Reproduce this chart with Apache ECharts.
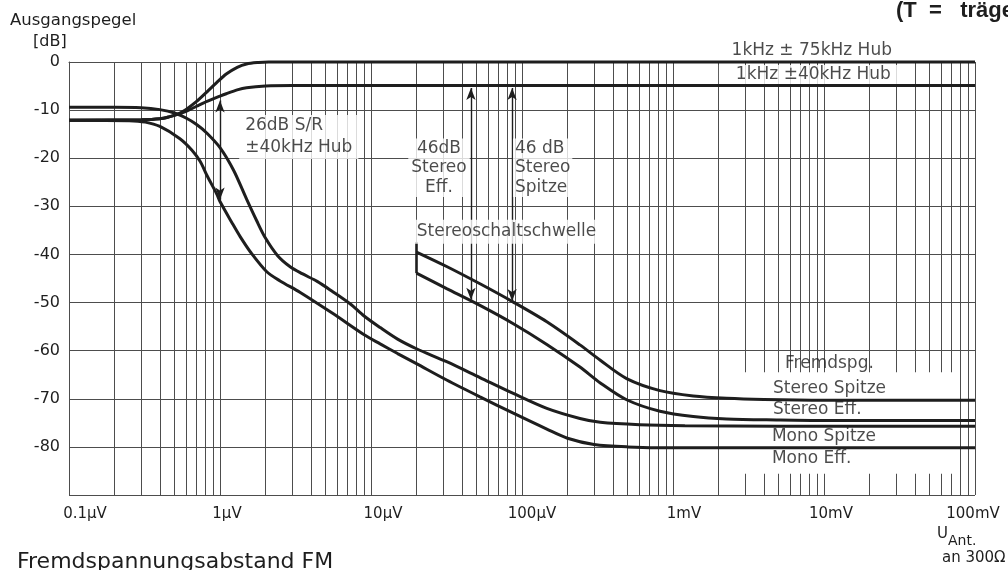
<!DOCTYPE html>
<html><head><meta charset="utf-8">
<script src="https://cdn.jsdelivr.net/npm/echarts@6/dist/echarts.min.js"></script>
<style>html,body{margin:0;padding:0;background:#fff}#c{width:1008px;height:570px}</style>
</head><body><div id="c"></div>
<script>
// ---- data (input voltage in µV, output level in dB) ----
const xTickLabels = ['0.1µV','1µV','10µV','100µV','1mV','10mV','100mV'];
const sig75 = [[0.1,-12.1],[0.3,-12.0],[0.4,-11.8],[0.46,-11.4],[0.52,-10.9],[0.6,-9.8],[0.7,-8.2],[0.82,-6.2],[0.95,-4.3],[1.1,-2.5],[1.3,-1.1],[1.5,-0.4],[1.8,-0.1],[2.1,0],[10,0],[100000,0]];
const sig40 = [[0.1,-12.1],[0.3,-12.0],[0.4,-11.8],[0.46,-11.4],[0.52,-10.9],[0.6,-10.2],[0.7,-9.2],[0.82,-8.2],[1.0,-7.1],[1.1,-6.6],[1.3,-5.8],[1.5,-5.35],[2.0,-5.0],[3,-4.9],[20,-4.9],[100000,-4.9]];
const monoSpitze = [[0.1,-9.4],[0.2,-9.4],[0.3,-9.5],[0.4,-9.9],[0.5,-10.6],[0.6,-11.7],[0.7,-13.0],[0.82,-14.8],[1.0,-17.8],[1.23,-22.5],[1.5,-28.5],[1.75,-33],[2.0,-36.6],[2.4,-40.2],[2.9,-42.5],[3.5,-44],[4.4,-45.6],[5.5,-47.6],[7.3,-50.3],[9,-52.8],[11.5,-55.2],[15,-57.6],[20,-59.6],[31.7,-62.3],[52.7,-65.6],[87.6,-68.9],[146,-72],[242,-74.1],[330,-74.9],[600,-75.4],[1200,-75.6],[5000,-75.7],[100000,-75.7]];
const monoEff = [[0.1,-12.1],[0.25,-12.2],[0.32,-12.5],[0.4,-13.4],[0.54,-15.9],[0.65,-18.3],[0.74,-20.7],[0.82,-23.6],[0.95,-27.4],[1.0,-29.0],[1.2,-33.4],[1.36,-36.3],[1.6,-39.6],[2.04,-43.6],[2.5,-45.5],[3.4,-47.9],[5.6,-52.3],[8.9,-56.6],[11.5,-58.6],[15,-60.6],[20,-62.7],[31.7,-66.1],[52.7,-69.6],[87.6,-73],[146,-76.3],[200,-78.2],[300,-79.5],[500,-80],[1000,-80.2],[5000,-80.2],[100000,-80.2]];
const stereoSpitze = [[20,-39.5],[31.7,-42.5],[52.7,-46.1],[87.6,-49.9],[146,-54],[242,-58.8],[330,-62],[493,-65.8],[820,-68.3],[1362,-69.4],[2269,-69.9],[4000,-70.15],[10000,-70.3],[100000,-70.3]];
const stereoEff = [[20,-43.9],[31.7,-47.1],[52.7,-50.6],[87.6,-54.4],[146,-58.7],[242,-63.4],[330,-66.7],[493,-70.2],[820,-72.6],[1362,-73.7],[2269,-74.2],[5000,-74.4],[10000,-74.5],[100000,-74.5]];
// measurement arrows: [x µV, top dB, bottom dB]
const arrows = [[1,-8,-28.6],[45.9,-5.4,-49.4],[86,-5.4,-49.7]];
// stereo switching threshold: [x µV, top dB, bottom dB]
const threshold = [20,-37.4,-43.9];
const annotationTexts = ['1kHz ± 75kHz Hub','1kHz ±40kHz Hub','26dB S/R\n±40kHz Hub','46dB\nStereo\nEff.','46 dB\nStereo\nSpitze','Stereoschaltschwelle','Fremdspg.','Stereo Spitze','Stereo Eff.','Mono Spitze','Mono Eff.'];
const annotationAnchors = [[8300,0],[8500,-2.6],[1.34,-15.6],[28.2,-22],[87.1,-22],[18.9,-35.3],[5520,-62.6],[4590,-67.8],[4590,-72.3],[4520,-77.9],[4520,-82.4]];

// ---- styling / layout ----
const FONT = 'DejaVu Sans';
const INK = '#1e1e1e';
const GRIDC = '#4d4d4d';
const xShift = [16,7,12,10,11,7,-2];
const annoStyle = [
  {align:'center', offset:[0,-11]},
  {align:'center', bg:true, padding:[0,17], lineHeight:19},
  {align:'left', bg:true, padding:[0,6], lineHeight:22},
  {align:'center', bg:true, padding:[0,3], lineHeight:19.5},
  {align:'left', bg:true, padding:[0,2], lineHeight:19.5},
  {align:'left', bg:true, padding:[2,4]},
  {align:'left'},{align:'left'},{align:'left'},{align:'left'},{align:'left'}
];

const gridX = [];
for (let k = -1; k <= 4; k++) for (let m = 1; m <= 9; m++) gridX.push(Number((m * Math.pow(10, k)).toPrecision(3)));
gridX.push(100000);

const richX = {};
xShift.forEach((s, i) => {
  richX['s' + i] = {fontSize:15, fontFamily:FONT, color:INK, padding: s >= 0 ? [0,0,0,2*s] : [0,-2*s,0,0]};
});

const curve = (name, data) => ({
  name, type:'line', data, z:6, clip:false, showSymbol:false, symbol:'none',
  smooth:0.3, silent:true,
  lineStyle:{color:INK, width:3}
});

const annoData = annotationTexts.map((t, i) => {
  const st = annoStyle[i];
  return {
    value: annotationAnchors[i],
    label: {
      show:true, position:'inside', formatter:t, align:st.align, verticalAlign:'middle',
      fontFamily:FONT, fontSize:17, color:INK, lineHeight:st.lineHeight || 20,
      textBorderWidth:0, textBorderColor:'transparent', textShadowBlur:0,
      backgroundColor: st.bg ? '#fff' : 'transparent', padding: st.padding || 0,
      offset: st.offset || [0,0]
    }
  };
});

const arrowLines = arrows.map(a => [{coord:[a[0],a[1]]},{coord:[a[0],a[2]]}]);
arrowLines.push([{coord:[threshold[0],threshold[1]], symbol:'none', lineStyle:{width:2.6}},
                 {coord:[threshold[0],threshold[2]], symbol:'none'}]);

const chart = echarts.init(document.getElementById('c'), null, {renderer:'canvas'});
chart.setOption({
  animation:false,
  backgroundColor:'#fff',
  grid:{left:69, top:62, right:33, bottom:75},
  xAxis:{
    type:'log', logBase:10, min:0.1, max:100000, splitNumber:6,
    axisLine:{show:true, lineStyle:{color:GRIDC, width:1}},
    axisTick:{show:false}, splitLine:{show:false},
    axisLabel:{margin:12, showMinLabel:true, showMaxLabel:true,
      formatter:v => { const i = Math.round(Math.log10(v)) + 1; return '{s' + i + '|' + xTickLabels[i] + '}'; },
      rich:richX}
  },
  yAxis:{
    type:'value', min:-90, max:0, interval:10, z:3,
    axisLine:{show:true, lineStyle:{color:GRIDC, width:1}},
    axisTick:{show:false},
    splitLine:{show:true, lineStyle:{color:GRIDC, width:1}},
    axisLabel:{margin:9, fontSize:16, fontFamily:FONT, color:INK,
      formatter:v => v === -90 ? '' : String(v)}
  },
  series:[
    {type:'line', data:[], z:1, silent:true,
     markLine:{z:1, silent:true, symbol:['none','none'], label:{show:false},
       lineStyle:{color:GRIDC, width:1, type:'solid'}, emphasis:{disabled:true},
       data:gridX.map(v => ({xAxis:v}))}},
    {type:'line', data:[], z:2, silent:true,
     markArea:{z:2, silent:true, itemStyle:{color:'#fff', opacity:1}, emphasis:{disabled:true},
       data:[[{coord:[2550,-64.5]},{coord:[74000,-85.6]}]]}},
    {type:'line', data:[], z:4, silent:true,
     markLine:{z:4, silent:true, symbol:['arrow','arrow'], symbolSize:[7,12], label:{show:false},
       lineStyle:{color:INK, width:1.4, type:'solid'}, itemStyle:{color:INK}, emphasis:{disabled:true},
       data:arrowLines}},
    {type:'scatter', z:7, clip:false, silent:true, symbolSize:0, itemStyle:{color:INK}, data:annoData},
    curve('±75kHz', sig75),
    curve('±40kHz', sig40),
    curve('Mono Spitze', monoSpitze),
    curve('Mono Eff.', monoEff),
    curve('Stereo Spitze', stereoSpitze),
    curve('Stereo Eff.', stereoEff)
  ],
  graphic:[
    {type:'text', x:10, y:21, style:{text:'Ausgangspegel', font:'16.5px "DejaVu Sans"', fill:INK, textVerticalAlign:'middle'}},
    {type:'text', x:33, y:42, style:{text:'[dB]', font:'16px "DejaVu Sans"', fill:INK, textVerticalAlign:'middle'}},
    {type:'text', x:937, y:534, style:{text:'U', font:'15px "DejaVu Sans"', fill:INK, textVerticalAlign:'middle'}},
    {type:'text', x:948, y:541, style:{text:'Ant.', font:'14px "DejaVu Sans"', fill:INK, textVerticalAlign:'middle'}},
    {type:'text', x:942, y:558, style:{text:'an 300Ω', font:'15px "DejaVu Sans"', fill:INK, textVerticalAlign:'middle'}},
    {type:'text', x:17, y:551, style:{text:'Fremdspannungsabstand FM', font:'22px "DejaVu Sans"', fill:INK, textVerticalAlign:'top'}},
    {type:'text', x:896, y:0, style:{text:'(T  =   träge', font:'bold 22px "Liberation Sans"', fill:INK, textVerticalAlign:'top'}}
  ]
});
</script></body></html>
